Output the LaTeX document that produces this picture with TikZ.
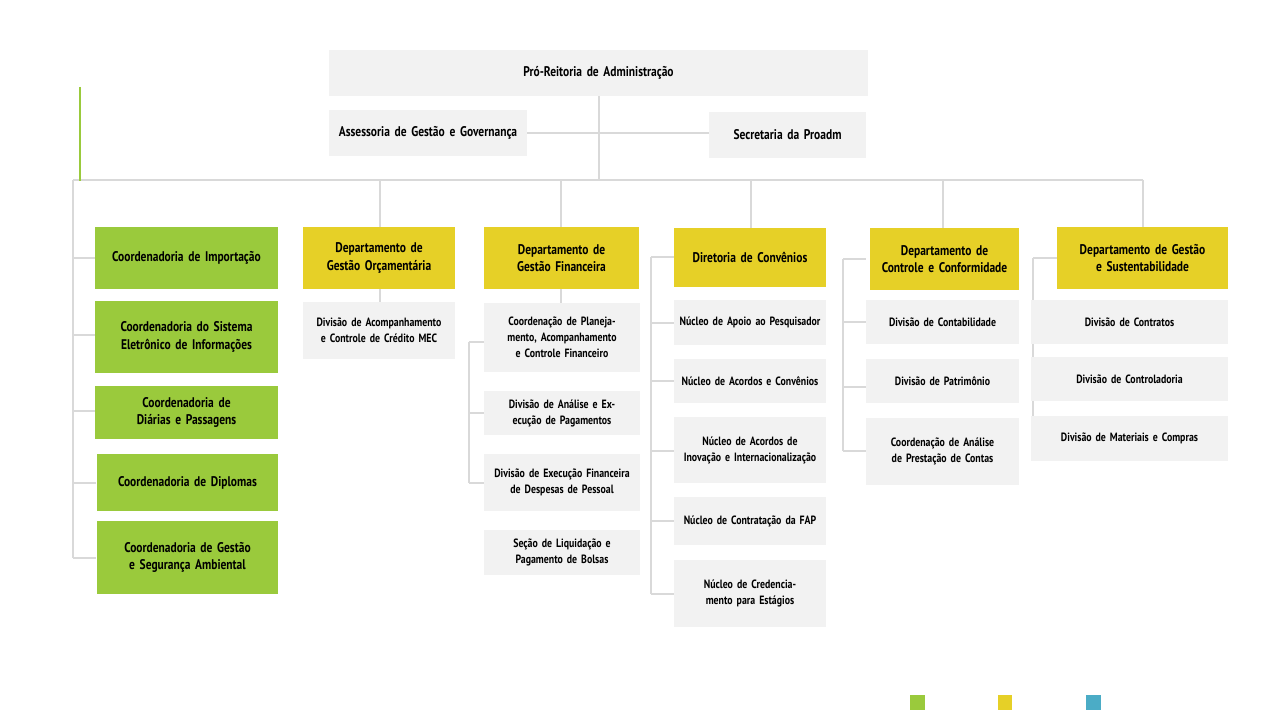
\documentclass[tikz,border=0pt]{standalone}
\usepackage{fontspec}
\setmainfont{PT Sans}[FakeStretch=0.82]
\definecolor{gr}{HTML}{9ACA3C}
\definecolor{ye}{HTML}{E6D027}
\definecolor{lg}{HTML}{F2F2F2}
\definecolor{ln}{HTML}{D9D9D9}
\definecolor{bl}{HTML}{4BACC6}
\newcommand{\bx}[8]{\node[fill=#6,inner sep=0pt,minimum width={(#4-#2)*0.75pt},minimum height={(#5-#3)*0.75pt},text width={(#4-#2-10)*0.75pt},align=center,font=#8] (#1) at ({(#2+#4)/2},{(#3+#5)/2}) {#7};}
\tikzset{cn/.style={draw=ln,line width=0.8pt}}
\begin{document}
\begin{tikzpicture}[x=0.75pt,y=-0.75pt]
\useasboundingbox (0,0) rectangle (1280,720);
\def\big{\bfseries\fontsize{10.5}{13}\selectfont}
\def\sm{\bfseries\fontsize{9}{12}\selectfont}
% connectors
\coordinate (t1) at (599,180);
\draw[cn] (599,96) -- (t1);
\draw[cn] (527,133) -- (709,133);
\draw[cn] (73,180) -- (1143,180);
\draw[gr,line width=1.2pt] (80,87) -- (80,181);
\foreach \x in {380,561,751,943,1143} \draw[cn] (\x,180) -- (\x,228);
\draw[cn] (73,180) -- (73,558);
\foreach \y in {258,335,411,483,558} \draw[cn] (73,\y) -- (96,\y);
\draw[cn] (380,289) -- (380,302);
\draw[cn] (561,289) -- (561,303);
\draw[cn] (469,342) -- (469,483);
\foreach \y in {342,413,483} \draw[cn] (469,\y) -- (484,\y);
\draw[cn] (651,257) -- (651,594);
\foreach \y in {257,323,381,451,521,594} \draw[cn] (651,\y) -- (674,\y);
\draw[cn] (843,259) -- (843,451);
\foreach \y in {259,322,387,451} \draw[cn] (843,\y) -- (866,\y);
\draw[cn] (1033,258) -- (1033,437);
\foreach \y in {258,322,380,437} \draw[cn] (1033,\y) -- (1057,\y);
% boxes
\bx{pro}{329}{50}{868}{96}{lg}{Pró-Reitoria de Administração}{\big}
\bx{ass}{329}{110}{527}{156}{lg}{Assessoria de Gestão e Governança}{\big}
\bx{sec}{709}{112}{866}{158}{lg}{Secretaria da Proadm}{\big}
\bx{g1}{95}{227}{278}{289}{gr}{Coordenadoria de Importação}{\big}
\bx{g2}{95}{301}{278}{373}{gr}{Coordenadoria do Sistema Eletrônico de Informações}{\big}
\bx{g3}{95}{386}{278}{439}{gr}{Coordenadoria de Diárias e Passagens}{\big}
\bx{g4}{97}{454}{278}{511}{gr}{Coordenadoria de Diplomas}{\big}
\bx{g5}{97}{521}{278}{594}{gr}{Coordenadoria de Gestão e Segurança Ambiental}{\big}
\bx{y1}{303}{227}{455}{289}{ye}{Departamento de Gestão Orçamentária}{\big}
\bx{y2}{484}{227}{639}{289}{ye}{Departamento de Gestão Financeira}{\big}
\bx{y3}{674}{228}{826}{287}{ye}{Diretoria de Convênios}{\big}
\bx{y4}{870}{228}{1019}{290}{ye}{Departamento de Controle e Conformidade}{\big}
\bx{y5}{1057}{227}{1228}{289}{ye}{Departamento de Gestão e Sustentabilidade}{\big}
\bx{a1}{303}{302}{455}{359}{lg}{Divisão de Acompanhamento e Controle de Crédito MEC}{\sm}
\bx{b1}{484}{303}{640}{372}{lg}{Coordenação de Planejamento, Acompanhamento e Controle Financeiro}{\sm}
\bx{b2}{484}{391}{640}{435}{lg}{Divisão de Análise e Execução de Pagamentos}{\sm}
\bx{b3}{484}{454}{640}{511}{lg}{Divisão de Execução Financeira de Despesas de Pessoal}{\sm}
\bx{b4}{484}{530}{640}{575}{lg}{Seção de Liquidação e Pagamento de Bolsas}{\sm}
\bx{c1}{674}{300}{826}{345}{lg}{Núcleo de Apoio ao Pesquisador}{\sm}
\bx{c2}{674}{359}{826}{403}{lg}{Núcleo de Acordos e Convênios}{\sm}
\bx{c3}{674}{417}{826}{483}{lg}{Núcleo de Acordos de Inovação e Internacionalização}{\sm}
\bx{c4}{674}{497}{826}{545}{lg}{Núcleo de Contratação da FAP}{\sm}
\bx{c5}{674}{560}{826}{627}{lg}{Núcleo de Credenciamento para Estágios}{\sm}
\bx{d1}{866}{300}{1019}{344}{lg}{Divisão de Contabilidade}{\sm}
\bx{d2}{866}{359}{1019}{403}{lg}{Divisão de Patrimônio}{\sm}
\bx{d3}{866}{418}{1019}{485}{lg}{Coordenação de Análise de Prestação de Contas}{\sm}
\bx{e1}{1031}{300}{1228}{344}{lg}{Divisão de Contratos}{\sm}
\bx{e2}{1031}{357}{1228}{401}{lg}{Divisão de Controladoria}{\sm}
\bx{e3}{1031}{416}{1228}{461}{lg}{Divisão de Materiais e Compras}{\sm}
% legend
\fill[gr] (910,695) rectangle (925,710);
\fill[ye] (998,695) rectangle (1012,710);
\fill[bl] (1086,695) rectangle (1101,710);
\end{tikzpicture}
\end{document}
